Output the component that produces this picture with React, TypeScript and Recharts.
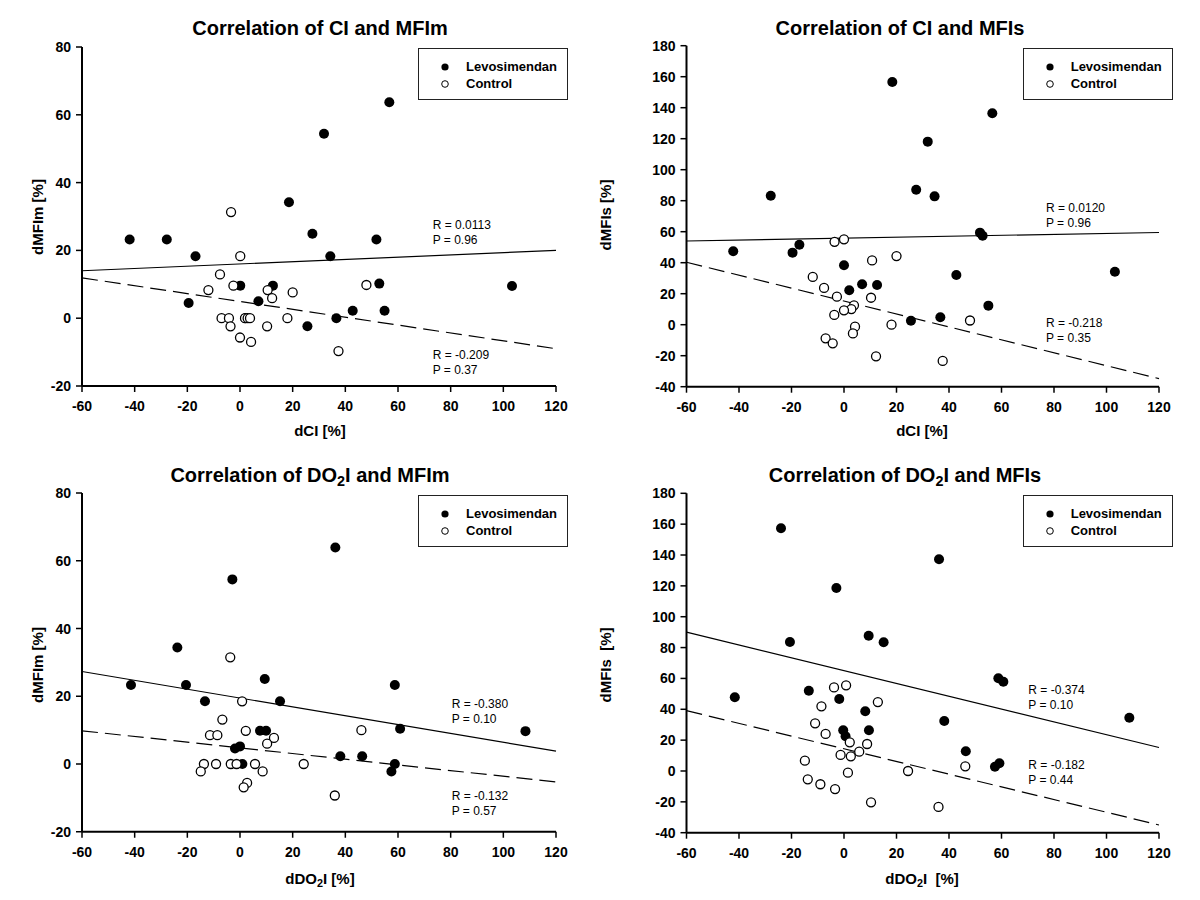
import React from 'react'
import { ScatterChart, Scatter, XAxis, YAxis, ReferenceLine } from 'recharts'

const FONT = '"Liberation Sans", Arial, Helvetica, sans-serif'

// shared ticks
const xTicks = [-60, -40, -20, 0, 20, 40, 60, 80, 100, 120]
const mfimTicks = [-20, 0, 20, 40, 60, 80]
const mfisTicks = [-40, -20, 0, 20, 40, 60, 80, 100, 120, 140, 160, 180]

// CI vs MFIm
const ciMfimLevoX = [56.7, 31.9, 18.6, 27.5, -41.9, -27.8, 51.8, -16.9, 34.3, 0.1, 12.5, 7.0, -19.5, 52.9, 42.8, 54.9, 36.6, 25.6, 103.3, 2.0]
const ciMfimLevoY = [63.7, 54.4, 34.2, 24.9, 23.2, 23.2, 23.2, 18.3, 18.3, 9.6, 9.6, 5.0, 4.5, 10.2, 2.2, 2.2, 0, -2.4, 9.5, 0]
const ciMfimCtrlX = [-3.4, 0.1, -7.6, -12.0, -2.5, 10.5, 12.2, 20.0, 48.0, -7.0, -4.2, -3.6, 1.9, 2.9, 3.8, 0, 4.2, 10.3, 18.0, 37.4]
const ciMfimCtrlY = [31.3, 18.3, 12.9, 8.3, 9.6, 8.3, 5.9, 7.6, 9.8, 0, 0, -2.4, 0, 0, 0, -5.7, -7.0, -2.4, 0, -9.7]

// CI vs MFIs
const ciMfisLevoX = [18.4, 31.9, 27.5, 34.5, -27.9, 56.5, 51.8, 52.8, 103.2, 55.0, -42.2, -19.6, -17.0, 0, 42.8, 6.9, 12.6, 2.0, 25.5, 36.7]
const ciMfisLevoY = [156.6, 118.1, 87.1, 82.8, 83.2, 136.4, 59.4, 57.4, 34.2, 12.3, 47.4, 46.5, 51.6, 38.3, 32.1, 26.1, 25.6, 22.2, 2.6, 4.8]
const ciMfisCtrlX = [-3.6, 0, 10.7, 20.0, -11.9, -7.6, -2.7, 10.3, 3.8, 2.8, 0, -3.7, 4.2, 3.4, -7.0, -4.3, 18.1, 12.2, 37.6, 48.0]
const ciMfisCtrlY = [53.5, 55.1, 41.5, 44.3, 30.8, 23.7, 18.1, 17.4, 12.5, 10.1, 9.3, 6.3, -1.3, -5.6, -8.8, -12.0, 0, -20.4, -23.4, 2.7]

// DO2I vs MFIm
const doMfimLevoX = [36.2, -2.9, -23.8, -41.4, -20.5, 9.4, 58.8, -13.3, 15.2, 7.6, 9.9, -1.9, 0, 38.1, 46.4, 60.8, 58.8, 57.5, 0.9, 108.4]
const doMfimLevoY = [63.9, 54.5, 34.4, 23.3, 23.3, 25.1, 23.3, 18.5, 18.5, 9.8, 9.8, 4.6, 5.2, 2.3, 2.3, 10.4, 0, -2.2, 0, 9.7]
const doMfimCtrlX = [-3.7, 0.8, -6.7, 2.2, -11.4, -8.6, 12.9, 10.3, 46.1, -13.7, -14.9, -9.1, -3.5, -1.3, 5.7, 8.6, 2.7, 1.4, 24.2, 36.0]
const doMfimCtrlY = [31.5, 18.5, 13.1, 9.8, 8.5, 8.5, 7.7, 6.0, 10.0, 0, -2.2, 0, 0, 0, 0, -2.2, -5.6, -6.9, 0, -9.3]

// DO2I vs MFIs
const doMfisLevoX = [-24.0, 36.2, -2.9, -20.6, 9.4, 15.1, -41.6, -13.4, -1.8, 8.1, 38.2, -0.3, 0.6, 9.5, 46.4, 58.8, 60.7, 108.7, 57.5, 59.2]
const doMfisLevoY = [157.3, 137.2, 118.6, 83.6, 87.7, 83.4, 47.8, 52.0, 46.7, 38.7, 32.4, 26.4, 22.5, 26.4, 12.8, 60.1, 57.9, 34.5, 2.8, 5.0]
const doMfisCtrlX = [-3.8, 0.8, 12.9, -8.6, -11.0, -7.0, 2.2, 8.8, 5.8, -1.3, 2.6, 46.2, 24.4, -14.9, 1.5, -13.8, -9.0, -3.4, 10.3, 36.0]
const doMfisCtrlY = [54.2, 55.5, 44.7, 41.9, 30.9, 24.0, 18.6, 17.5, 12.5, 10.4, 9.5, 3.0, 0, 6.7, -1.1, -5.4, -8.6, -11.7, -20.3, -23.3]

// regression lines: y at x=-60 and x=120  [levo (solid), control (dashed)]
const ciMfimFit = [[14.0, 20.0], [11.9, -9.0]]
const ciMfisFit = [[54.0, 59.5], [40.3, -34.8]]
const doMfimFit = [[27.3, 3.8], [9.8, -5.3]]
const doMfisFit = [[90.0, 15.2], [39.1, -35.0]]

const ciMfimStats = [['R = 0.0113', 'P = 0.96'], ['R = -0.209', 'P = 0.37']]
const ciMfisStats = [['R = 0.0120', 'P = 0.96'], ['R = -0.218', 'P = 0.35']]
const doMfimStats = [['R = -0.380', 'P = 0.10'], ['R = -0.132', 'P = 0.57']]
const doMfisStats = [['R = -0.374', 'P = 0.10'], ['R = -0.182', 'P = 0.44']]

const zip = (xs: number[], ys: number[]) => xs.map((x, i) => ({ x, y: ys[i] }))

const filledDot = (p: any) => <circle cx={p.cx} cy={p.cy} r={5} fill="#000" />
const openDot = (p: any) => (
    <circle cx={p.cx} cy={p.cy} r={4.5} fill="#fff" stroke="#000" strokeWidth={1.3} />
)

// custom tick text so the font size really applies
const XTick = (p: any) => (
    <text x={p.x} y={p.y} dy="0.71em" textAnchor="middle" fill="#000"
        style={{ fontFamily: FONT, fontSize: 14, fontWeight: 700 }}>
        {p.payload.value}
    </text>
)
const YTick = (p: any) => (
    <text x={p.x} y={p.y} dy="0.36em" textAnchor="end" fill="#000"
        style={{ fontFamily: FONT, fontSize: 14, fontWeight: 700 }}>
        {p.payload.value}
    </text>
)

const sub2 = <span style={{ fontSize: '0.72em', position: 'relative', top: '0.3em' }}>2</span>

const panels = [
    {
        left: 0, top: 0, margin: { top: 47, right: 44, bottom: 34, left: 32 },
        yDomain: [-20, 80], yTicks: mfimTicks,
        levo: zip(ciMfimLevoX, ciMfimLevoY), ctrl: zip(ciMfimCtrlX, ciMfimCtrlY),
        fit: ciMfimFit, stats: ciMfimStats,
        title: <>Correlation of CI and MFIm</>, titleX: 320, titleY: 28,
        yLabel: 'dMFIm [%]', yLabelX: 37, yLabelY: 217,
        xLabel: <>dCI [%]</>, xLabelX: 320, xLabelY: 430,
        statX: 432.7, statY: [218, 348],
        legendX: 418, legendY: 48,
    },
    {
        left: 600, top: 0, margin: { top: 45.7, right: 41, bottom: 33.3, left: 36.5 },
        yDomain: [-40, 180], yTicks: mfisTicks,
        levo: zip(ciMfisLevoX, ciMfisLevoY), ctrl: zip(ciMfisCtrlX, ciMfisCtrlY),
        fit: ciMfisFit, stats: ciMfisStats,
        title: <>Correlation of CI and MFIs</>, titleX: 900, titleY: 28,
        yLabel: 'dMFIs [%]', yLabelX: 605, yLabelY: 215,
        xLabel: <>dCI [%]</>, xLabelX: 922, xLabelY: 430,
        statX: 1046, statY: [201, 315.5],
        legendX: 1022.7, legendY: 48,
    },
    {
        left: 0, top: 450, margin: { top: 43, right: 44, bottom: 38.25, left: 32 },
        yDomain: [-20, 80], yTicks: mfimTicks,
        levo: zip(doMfimLevoX, doMfimLevoY), ctrl: zip(doMfimCtrlX, doMfimCtrlY),
        fit: doMfimFit, stats: doMfimStats,
        title: <>Correlation of DO{sub2}I and MFIm</>, titleX: 310, titleY: 475,
        yLabel: 'dMFIm [%]', yLabelX: 37, yLabelY: 665,
        xLabel: <>dDO{sub2}I [%]</>, xLabelX: 320, xLabelY: 878,
        statX: 451.7, statY: [697, 788.5],
        legendX: 418, legendY: 495,
    },
    {
        left: 600, top: 450, margin: { top: 43.3, right: 41, bottom: 37.3, left: 36.5 },
        yDomain: [-40, 180], yTicks: mfisTicks,
        levo: zip(doMfisLevoX, doMfisLevoY), ctrl: zip(doMfisCtrlX, doMfisCtrlY),
        fit: doMfisFit, stats: doMfisStats,
        title: <>Correlation of DO{sub2}I and MFIs</>, titleX: 905, titleY: 475,
        yLabel: 'dMFIs\u00a0 [%]', yLabelX: 605, yLabelY: 665,
        xLabel: <>dDO{sub2}I&nbsp; [%]</>, xLabelX: 922, xLabelY: 878,
        statX: 1028.3, statY: [683, 758],
        legendX: 1022.7, legendY: 495,
    },
]

function Legend({ x, y }: { x: number; y: number }) {
    return (
        <div
            style={{
                position: 'absolute', left: x, top: y, width: 150, height: 52,
                border: '1px solid #222', boxSizing: 'border-box', background: '#fff',
                fontFamily: FONT, fontWeight: 700, fontSize: 13,
            }}
        >
            <svg style={{ position: 'absolute', left: 0, top: 0 }} width={40} height={50}>
                <circle cx={26} cy={18} r={3.6} fill="#000" />
                <circle cx={26} cy={35} r={3.3} fill="#fff" stroke="#000" strokeWidth={1} />
            </svg>
            <div style={{ position: 'absolute', left: 47, top: 10, lineHeight: '16px' }}>Levosimendan</div>
            <div style={{ position: 'absolute', left: 47, top: 27, lineHeight: '16px' }}>Control</div>
        </div>
    )
}

const centered: React.CSSProperties = {
    position: 'absolute', whiteSpace: 'nowrap', transform: 'translate(-50%, -50%)', color: '#000',
}

export default function App() {
    return (
        <div style={{ position: 'absolute', left: 0, top: 0, width: 1200, height: 900, background: '#fff', fontFamily: FONT }}>
            {panels.map((p, i) => (
                <React.Fragment key={i}>
                    <div style={{ position: 'absolute', left: p.left, top: p.top }}>
                        <ScatterChart width={600} height={450} margin={p.margin}>
                            <XAxis
                                type="number" dataKey="x" domain={[-60, 120]} ticks={xTicks} interval={0}
                                allowDataOverflow height={30} tickSize={6} tickMargin={9}
                                axisLine={{ stroke: '#000', strokeWidth: 2 }}
                                tickLine={{ stroke: '#000', strokeWidth: 1.5 }}
                                tick={XTick}
                            />
                            <YAxis
                                type="number" dataKey="y" domain={p.yDomain} ticks={p.yTicks} interval={0}
                                allowDataOverflow width={50} tickSize={6} tickMargin={5}
                                axisLine={{ stroke: '#000', strokeWidth: 2 }}
                                tickLine={{ stroke: '#000', strokeWidth: 1.5 }}
                                tick={YTick}
                            />
                            <ReferenceLine
                                segment={[{ x: -60, y: p.fit[0][0] }, { x: 120, y: p.fit[0][1] }]}
                                stroke="#000" strokeWidth={1.2} ifOverflow="visible"
                            />
                            <ReferenceLine
                                segment={[{ x: -60, y: p.fit[1][0] }, { x: 120, y: p.fit[1][1] }]}
                                stroke="#000" strokeWidth={1.2} strokeDasharray="16 7" ifOverflow="visible"
                            />
                            <Scatter data={p.levo} shape={filledDot} isAnimationActive={false} />
                            <Scatter data={p.ctrl} shape={openDot} isAnimationActive={false} />
                        </ScatterChart>
                    </div>
                    <div style={{ ...centered, left: p.titleX, top: p.titleY, fontSize: 20, fontWeight: 700 }}>{p.title}</div>
                    <div style={{ ...centered, left: p.xLabelX, top: p.xLabelY, fontSize: 15, fontWeight: 700 }}>{p.xLabel}</div>
                    <div
                        style={{
                            ...centered, left: p.yLabelX, top: p.yLabelY, fontSize: 15, fontWeight: 700,
                            transform: 'translate(-50%, -50%) rotate(-90deg)',
                        }}
                    >
                        {p.yLabel}
                    </div>
                    {p.stats.map((s, j) => (
                        <div
                            key={j}
                            style={{ position: 'absolute', left: p.statX, top: p.statY[j], fontSize: 12, lineHeight: '15px', color: '#000' }}
                        >
                            {s[0]}
                            <br />
                            {s[1]}
                        </div>
                    ))}
                    <Legend x={p.legendX} y={p.legendY} />
                </React.Fragment>
            ))}
        </div>
    )
}
